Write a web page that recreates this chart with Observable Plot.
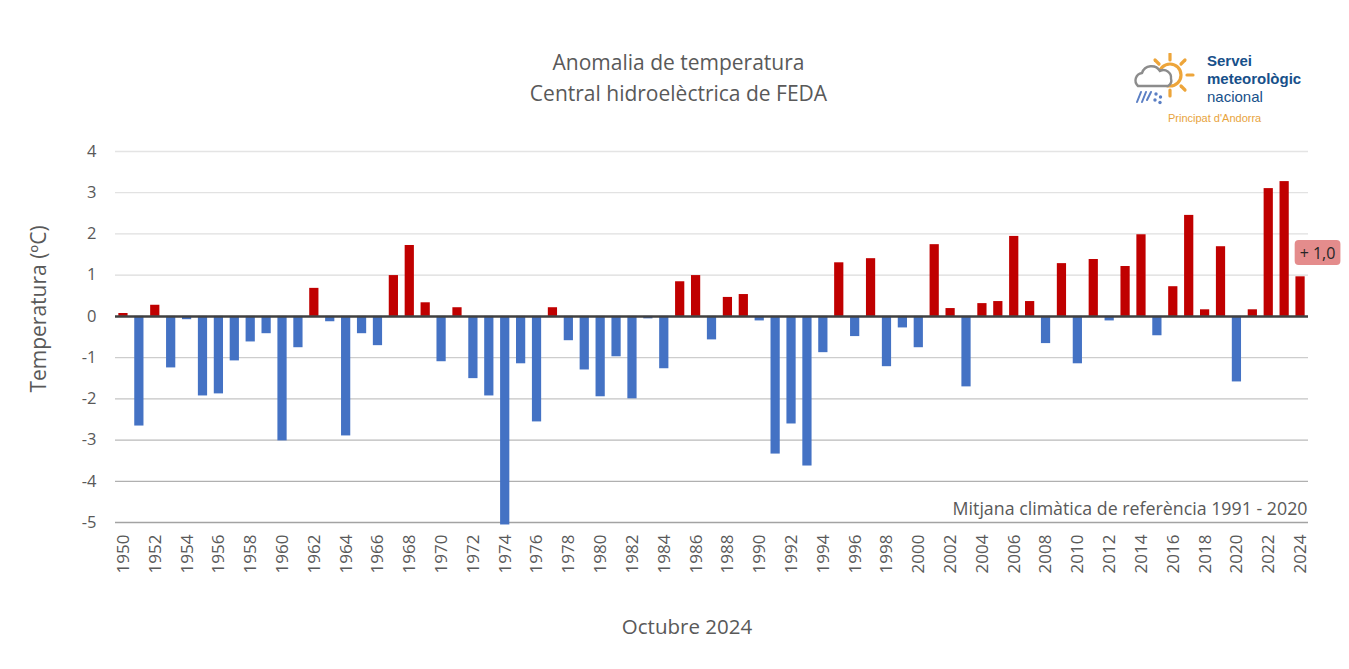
<!DOCTYPE html>
<html>
<head>
<meta charset="utf-8">
<script src="https://cdn.jsdelivr.net/npm/d3@7"></script>
<script src="https://cdn.jsdelivr.net/npm/@observablehq/plot@0.6"></script>
<style>
  html, body { margin: 0; padding: 0; background: #fff; }
  #wrap { position: relative; width: 1349px; height: 669px; font-family: "Open Sans", sans-serif; color: #595959; }
  .abs { position: absolute; white-space: nowrap; }
  #title { left: 0; width: 1357px; top: 47px; text-align: center; font-size: 21px; line-height: 31px; }
  #xlabel { left: 0; width: 1374px; top: 612px; text-align: center; font-size: 20.5px; }
  #logo { left: 1132px; top: 52px; width: 200px; height: 80px; }
  #logo .t { position: absolute; left: 75px; top: 0; font-family: "Liberation Sans", Arial, sans-serif; color: #17508a; font-size: 15px; line-height: 18px; }
  #logo .t b { font-weight: bold; }
  #logo .p { position: absolute; left: 36px; top: 60px; font-family: "Liberation Sans", Arial, sans-serif; color: #e8a33c; font-size: 11px; }
</style>
</head>
<body>
<div id="wrap">
  <div id="chart"></div>
  <div id="title" class="abs">Anomalia de temperatura<br>Central hidroelèctrica de FEDA</div>
  <div id="xlabel" class="abs">Octubre 2024</div>
  <div id="logo" class="abs">
    <svg width="66" height="56" style="position:absolute;left:0;top:1px" viewBox="0 0 66 56">
      <g stroke="#eda53a" stroke-width="3.2" stroke-linecap="round">
        <line x1="38" y1="1" x2="38" y2="7"/>
        <line x1="53" y1="7" x2="49" y2="11"/>
        <line x1="61" y1="22" x2="55" y2="22"/>
        <line x1="53" y1="37" x2="49" y2="33"/>
        <line x1="38" y1="43" x2="38" y2="37"/>
        <line x1="23" y1="7" x2="27" y2="11"/>
      </g>
      <circle cx="38" cy="22" r="11" fill="none" stroke="#eda53a" stroke-width="3.2"/>
      <path d="M6 33 a7.5 7.5 0 0 1 4 -13 a10 10 0 0 1 18 -2 a7.5 7.5 0 0 1 11 7.5 a6.5 6.5 0 0 1 -3 7.5 z" fill="#fff" stroke="#8c8c8c" stroke-width="2.4"/>
      <g stroke="#5b7fc4" stroke-width="2" stroke-linecap="round">
        <line x1="9" y1="39" x2="5" y2="49"/>
        <line x1="14" y1="39" x2="10" y2="49"/>
        <line x1="19" y1="39" x2="15" y2="47"/>
      </g>
      <g fill="#5b7fc4">
        <circle cx="24" cy="41" r="1.7"/><circle cx="28.5" cy="44" r="1.7"/><circle cx="23" cy="47" r="1.7"/><circle cx="28" cy="49.5" r="1.7"/>
      </g>
    </svg>
    <div class="t"><b>Servei<br>meteorològic</b><br>nacional</div>
    <div class="p">Principat d'Andorra</div>
  </div>
</div>
<script>
const years = [1950,1951,1952,1953,1954,1955,1956,1957,1958,1959,
  1960,1961,1962,1963,1964,1965,1966,1967,1968,1969,
  1970,1971,1972,1973,1974,1975,1976,1977,1978,1979,
  1980,1981,1982,1983,1984,1985,1986,1987,1988,1989,
  1990,1991,1992,1993,1994,1995,1996,1997,1998,1999,
  2000,2001,2002,2003,2004,2005,2006,2007,2008,2009,
  2010,2011,2012,2013,2014,2015,2016,2017,2018,2019,
  2020,2021,2022,2023,2024];
const anomalies = [0.07,-2.66,0.27,-1.25,-0.08,-1.93,-1.88,-1.08,-0.62,-0.42,
  -3.02,-0.76,0.68,-0.13,-2.90,-0.42,-0.71,0.99,1.72,0.33,
  -1.10,0.21,-1.51,-1.93,-5.06,-1.15,-2.56,0.21,-0.59,-1.30,
  -1.95,-0.98,-2.00,-0.06,-1.27,0.84,0.99,-0.57,0.46,0.53,
  -0.11,-3.34,-2.61,-3.63,-0.88,1.30,-0.49,1.40,-1.22,-0.28,
  -0.76,1.74,0.19,-1.71,0.31,0.36,1.94,0.36,-0.66,1.28,
  -1.15,1.38,-0.11,1.21,1.98,-0.47,0.72,2.45,0.16,1.69,
  -1.59,0.16,3.10,3.27,0.96];
const yTicks = [4,3,2,1,0,-1,-2,-3,-4,-5];
const xTickYears = years.filter(y => y % 2 === 0);
const yLabel = "Temperatura (ºC)";
const referenceNote = "Mitjana climàtica de referència 1991 - 2020";
const lastLabel = "+ 1,0";

const data = years.map((y, i) => ({year: y, value: anomalies[i]}));
const gridColor = v => ({4:"#e4e4e4",3:"#e2e2e2",2:"#dfdfdf",1:"#dbdbdb",0:"#d0d0d0",[-1]:"#cdcdcd",[-2]:"#c4c4c4",[-3]:"#bababa",[-4]:"#b0b0b0",[-5]:"#a3a3a3"})[v];
const last = data[data.length - 1];

const chart = Plot.plot({
  width: 1349,
  height: 669,
  marginTop: 151,
  marginBottom: 147,
  marginLeft: 115,
  marginRight: 41,
  style: {fontFamily: "Open Sans, sans-serif", color: "#595959", background: "transparent"},
  x: {type: "band", domain: years, paddingInner: 0.42, paddingOuter: 0.21},
  y: {domain: [-5, 4]},
  marks: [
    Plot.ruleY(yTicks.filter(v => v !== 0), {y: d => d, stroke: d => gridColor(d), strokeWidth: 1.3}),
    Plot.barY(data, {x: "year", y: "value", fill: d => d.value >= 0 ? "#c00000" : "#4472c4"}),
    Plot.ruleY([0], {stroke: "#404040", strokeWidth: 2.5}),
    Plot.axisY({ticks: yTicks, tickSize: 0, tickPadding: 19, fontSize: 16.5, tickFormat: d => String(d), label: null}),
    Plot.axisX({ticks: xTickYears, tickSize: 0, tickPadding: 12, tickRotate: -90, fontSize: 17, label: null, tickFormat: d => String(d)}),
    Plot.text([yLabel], {frameAnchor: "left", dx: -76, dy: -28, rotate: -90, textAnchor: "middle", fontSize: 21, fill: "#595959"}),
    Plot.text([referenceNote], {frameAnchor: "bottom-right", dx: -1, dy: -8, fontSize: 17.8, fill: "#595959", textAnchor: "end"}),
    Plot.text([last], {x: "year", y: "value", text: () => lastLabel, dx: 17, dy: -23, fontSize: 16, fill: "#262626", className: "lastlabel"})
  ]
});
document.getElementById("chart").appendChild(chart);

// rounded background box behind the last-value label
const t = chart.querySelector(".lastlabel text");
if (t) {
  const bb = t.getBBox();
  const rect = document.createElementNS("http://www.w3.org/2000/svg", "rect");
  rect.setAttribute("x", bb.x - 5);
  rect.setAttribute("y", bb.y - 2);
  rect.setAttribute("width", bb.width + 10);
  rect.setAttribute("height", bb.height + 3);
  rect.setAttribute("rx", 4);
  rect.setAttribute("fill", "#e48c8c");
  const tr = t.getAttribute("transform");
  if (tr) rect.setAttribute("transform", tr);
  t.parentNode.insertBefore(rect, t);
}
</script>
</body>
</html>
